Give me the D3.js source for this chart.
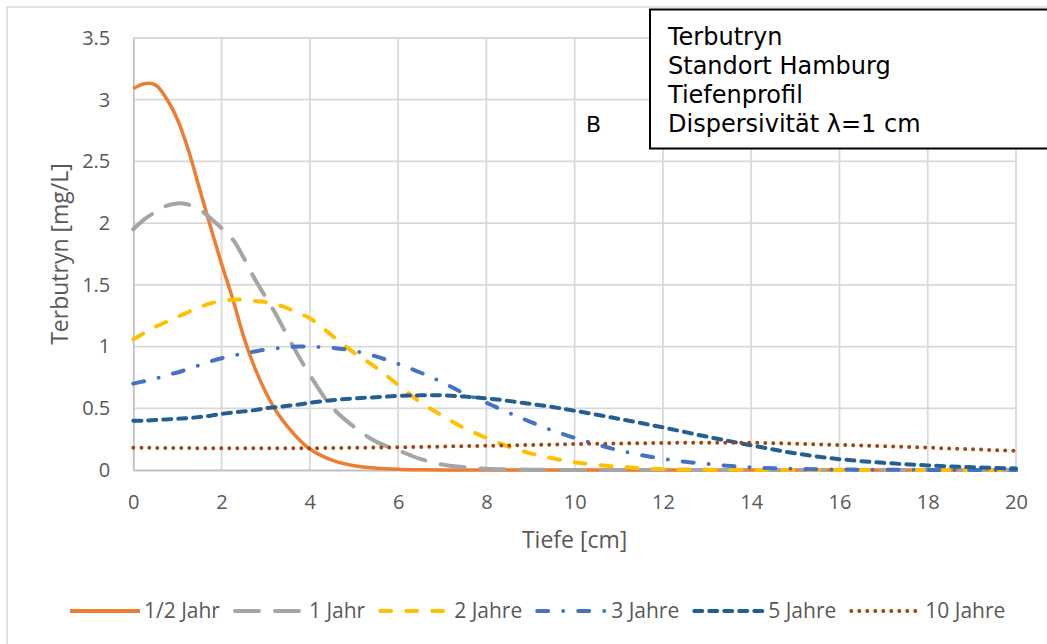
<!DOCTYPE html>
<html>
<head>
<meta charset="utf-8">
<script src="https://cdn.jsdelivr.net/npm/d3@7"></script>
<style>
body { margin: 0; background: #fff; }
svg { display: block; }
</style>
</head>
<body>
<div id="grafica"></div>
<script>
// Tiefe [cm] (x values shared by all series)
var tiefe = [0, 0.25, 0.5, 0.75, 1, 1.25, 1.5, 1.75, 2, 2.25, 2.5, 2.75, 3, 3.25, 3.5, 3.75, 4, 4.5, 5, 5.5, 6, 6.5, 7, 7.5, 8, 8.5, 9, 9.5, 10, 11, 12, 13, 14, 15, 16, 17, 18, 19, 20];
var halbJahr = [3.09, 3.13, 3.12, 3.01, 2.84, 2.59, 2.28, 1.97, 1.67, 1.39, 1.08, 0.83, 0.63, 0.47, 0.35, 0.25, 0.17, 0.08, 0.035, 0.015, 0.006, 0.002, 0.001, 0, 0, 0, 0, 0, 0, 0, 0, 0, 0, 0, 0, 0, 0, 0, 0];
var einJahr = [1.95, 2.03, 2.09, 2.14, 2.16, 2.15, 2.11, 2.04, 1.96, 1.87, 1.72, 1.55, 1.40, 1.25, 1.08, 0.92, 0.77, 0.51, 0.35, 0.23, 0.16, 0.09, 0.045, 0.022, 0.01, 0.005, 0.002, 0.001, 0, 0, 0, 0, 0, 0, 0, 0, 0, 0, 0];
var zweiJahre = [1.06, 1.11, 1.16, 1.20, 1.24, 1.28, 1.32, 1.35, 1.37, 1.38, 1.38, 1.37, 1.36, 1.34, 1.31, 1.27, 1.23, 1.09, 0.95, 0.83, 0.69, 0.55, 0.44, 0.34, 0.26, 0.19, 0.135, 0.095, 0.063, 0.026, 0.007, 0.003, 0.001, 0, 0, 0, 0, 0, 0];
var dreiJahre = [0.70, 0.72, 0.74, 0.77, 0.79, 0.82, 0.85, 0.88, 0.905, 0.925, 0.945, 0.96, 0.975, 0.985, 0.995, 1.0, 1.0, 0.99, 0.965, 0.92, 0.86, 0.79, 0.71, 0.62, 0.545, 0.465, 0.39, 0.32, 0.26, 0.16, 0.09, 0.049, 0.022, 0.009, 0.004, 0.002, 0.001, 0, 0];
var fuenfJahre = [0.40, 0.40, 0.405, 0.41, 0.415, 0.42, 0.43, 0.44, 0.455, 0.465, 0.475, 0.485, 0.50, 0.51, 0.52, 0.53, 0.545, 0.565, 0.58, 0.59, 0.60, 0.605, 0.605, 0.595, 0.58, 0.56, 0.535, 0.51, 0.48, 0.415, 0.345, 0.27, 0.20, 0.135, 0.088, 0.058, 0.037, 0.022, 0.013];
var zehnJahre = [0.18, 0.18, 0.179, 0.179, 0.178, 0.178, 0.177, 0.177, 0.177, 0.176, 0.176, 0.176, 0.176, 0.176, 0.176, 0.177, 0.177, 0.178, 0.18, 0.182, 0.184, 0.187, 0.19, 0.193, 0.196, 0.199, 0.203, 0.206, 0.21, 0.215, 0.219, 0.221, 0.221, 0.213, 0.203, 0.192, 0.181, 0.168, 0.155];

var namen = ['1/2 Jahr', '1 Jahr', '2 Jahre', '3 Jahre', '5 Jahre', '10 Jahre'];
var reihen = [halbJahr, einJahr, zweiJahre, dreiJahre, fuenfJahre, zehnJahre];
var farben = ['#ED7D31', '#A5A5A5', '#FFC000', '#4472C4', '#255E91', '#9E480E'];
var striche = [null, '24 16', '11 15', '11 15 0 15', '8 7', '0 8'];

var xTicks = [0, 2, 4, 6, 8, 10, 12, 14, 16, 18, 20];
var yTicks = [0, 0.5, 1, 1.5, 2, 2.5, 3, 3.5];
var infoZeilen = ['Terbutryn', 'Standort Hamburg', 'Tiefenprofil', 'Dispersivität λ=1 cm'];

var breite = 1047, hoehe = 644;
var links = 133.3, rechts = 1016, oben = 38, unten = 470;
var grau = "#d9d9d9";
var textfarbe = "#595959";

var svg = d3.select("#grafica")
	.append("svg")
	.attr("width", breite)
	.attr("height", hoehe);

// Rahmen des Diagramms
svg.append("rect")
	.attr("x", 7)
	.attr("y", 7)
	.attr("width", breite + 20)
	.attr("height", hoehe + 20)
	.attr("fill", "none")
	.attr("stroke", grau)
	.attr("stroke-width", 1.5);

var x = d3.scaleLinear().domain([0, 20]).range([links, rechts]);
var y = d3.scaleLinear().domain([0, 3.5]).range([unten, oben]);

// Gitter
svg.append("g").selectAll("line.v")
	.data(xTicks.slice(1))
	.join("line")
	.attr("x1", d => x(d)).attr("x2", d => x(d))
	.attr("y1", oben).attr("y2", unten)
	.attr("stroke", grau).attr("stroke-width", 1.8);
svg.append("g").selectAll("line.h")
	.data(yTicks.slice(1))
	.join("line")
	.attr("x1", links).attr("x2", rechts)
	.attr("y1", d => y(d)).attr("y2", d => y(d))
	.attr("stroke", grau).attr("stroke-width", 1.8);

// Achsen
var xAchse = svg.append("g")
	.attr("transform", "translate(0," + unten + ")")
	.call(d3.axisBottom(x).tickValues(xTicks).tickFormat(d3.format("d")).tickSize(0).tickPadding(25));
var yAchse = svg.append("g")
	.attr("transform", "translate(" + links + ",0)")
	.call(d3.axisLeft(y).tickValues(yTicks).tickFormat(d => String(d)).tickSize(0).tickPadding(23));
[xAchse, yAchse].forEach(function (a) {
	a.select(".domain").attr("stroke", "#bfbfbf").attr("stroke-width", 1.8);
	a.selectAll("text")
		.attr("fill", textfarbe)
		.attr("font-family", "'Open Sans', sans-serif")
		.attr("font-size", "20px");
});

// Achsentitel
svg.append("text")
	.attr("x", (links + rechts) / 2)
	.attr("y", 548)
	.attr("text-anchor", "middle")
	.attr("fill", textfarbe)
	.attr("font-family", "'Open Sans', sans-serif")
	.attr("font-size", "23px")
	.text("Tiefe [cm]");
svg.append("text")
	.attr("transform", "translate(68," + (oben + unten) / 2 + ") rotate(-90)")
	.attr("text-anchor", "middle")
	.attr("fill", textfarbe)
	.attr("font-family", "'Open Sans', sans-serif")
	.attr("font-size", "23px")
	.text("Terbutryn [mg/L]");

// Kurven (geglaettet wie in Excel)
var linie = d3.line()
	.x((d, i) => x(tiefe[i]))
	.y(d => y(Math.max(0, d)))
	.curve(d3.curveCatmullRom.alpha(0.5));

for (var indx = 0; indx < reihen.length; indx++) {
	svg.append("path")
		.attr("d", linie(reihen[indx]))
		.attr("fill", "none")
		.attr("stroke", farben[indx])
		.attr("stroke-width", indx == 0 ? 3.5 : 4)
		.attr("stroke-linecap", indx == 0 ? "butt" : "round")
		.attr("stroke-dasharray", striche[indx]);
}

// Beschriftung B
svg.append("text")
	.attr("x", 586)
	.attr("y", 132)
	.attr("font-family", "'DejaVu Sans', sans-serif")
	.attr("font-size", "22px")
	.attr("fill", "#000")
	.text("B");

// Infokasten
svg.append("rect")
	.attr("x", 650)
	.attr("y", 9.5)
	.attr("width", 420)
	.attr("height", 139)
	.attr("fill", "#fff")
	.attr("stroke", "#000")
	.attr("stroke-width", 2);
svg.append("g").selectAll("text")
	.data(infoZeilen)
	.join("text")
	.attr("x", 668)
	.attr("y", (d, i) => 45 + i * 29)
	.attr("font-family", "'DejaVu Sans', sans-serif")
	.attr("font-size", "24px")
	.attr("fill", "#000")
	.text(d => d);

// Legende
var legende = svg.append("g");
var lx = 70, ly = 611;
for (var k = 0; k < namen.length; k++) {
	legende.append("line")
		.attr("x1", lx).attr("x2", lx + 70)
		.attr("y1", ly).attr("y2", ly)
		.attr("stroke", farben[k])
		.attr("stroke-width", 4)
		.attr("stroke-linecap", k == 0 ? "butt" : "round")
		.attr("stroke-dasharray", striche[k]);
	var t = legende.append("text")
		.attr("x", lx + 74)
		.attr("y", ly + 7)
		.attr("fill", textfarbe)
		.attr("font-family", "'Open Sans', sans-serif")
		.attr("font-size", "21px")
		.text(namen[k]);
	lx = lx + 74 + t.node().getComputedTextLength() + 15;
}
</script>
</body>
</html>
